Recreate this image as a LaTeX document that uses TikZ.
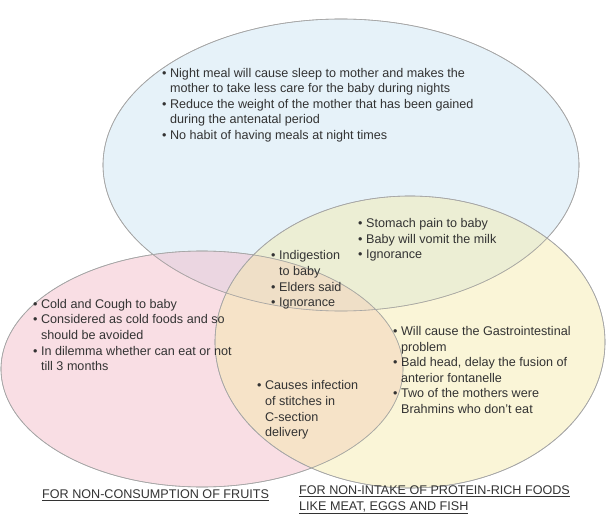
\documentclass[tikz,border=0pt]{standalone}
\usepackage{fontspec}
\setmainfont{Liberation Sans}
\begin{document}
\begin{tikzpicture}[x=1pt,y=-1pt,
  circ/.style={draw=gray!70,line width=0.6pt,fill opacity=0.45},
  txt/.style={align=left,anchor=west,inner sep=0pt,font=\fontsize{12.6}{15.6}\selectfont,text=black!80}]
\useasboundingbox (0,0) rectangle (606,514);
\fill[white] (0,0) rectangle (606,514);
\path[circ,fill={rgb,255:red,200;green,228;blue,242}] (341,165) ellipse [x radius=238,y radius=146];
\path[circ,fill={rgb,255:red,242;green,182;blue,196}] (202,369) ellipse [x radius=201,y radius=118];
\path[circ,fill={rgb,255:red,244;green,234;blue,168}] (410,342) ellipse [x radius=195,y radius=146];
\draw[gray!70,line width=0.6pt] (341,165) ellipse [x radius=238,y radius=146];
\draw[gray!70,line width=0.6pt] (202,369) ellipse [x radius=201,y radius=118];
\draw[gray!70,line width=0.6pt] (410,342) ellipse [x radius=195,y radius=146];
\node[txt] (t1) at (162,105) {• Night meal will cause sleep to mother and makes the\\\phantom{• }mother to take less care for the baby during nights\\• Reduce the weight of the mother that has been gained\\\phantom{• }during the antenatal period\\• No habit of having meals at night times};
\node[txt] (t2) at (358,240) {• Stomach pain to baby\\• Baby will vomit the milk\\• Ignorance};
\node[txt] (t3) at (271,280) {• Indigestion\\\phantom{• }to baby\\• Elders said\\• Ignorance};
\node[txt] (t4) at (33,335) {• Cold and Cough to baby\\• Considered as cold foods and so\\\phantom{• }should be avoided\\• In dilemma whether can eat or not\\\phantom{• }till 3 months};
\node[txt] (t5) at (393,370) {• Will cause the Gastrointestinal\\\phantom{• }problem\\• Bald head, delay the fusion of\\\phantom{• }anterior fontanelle\\• Two of the mothers were\\\phantom{• }Brahmins who don’t eat};
\node[txt] (t6) at (257,410) {• Causes infection\\\phantom{• }of stitches in\\\phantom{• }C-section\\\phantom{• }delivery};
\node[txt] (l1) at (42,495) {\underline{FOR NON-CONSUMPTION OF FRUITS}};
\node[txt] (l2) at (299,500) {\underline{FOR NON-INTAKE OF PROTEIN-RICH FOODS}\\\underline{LIKE MEAT, EGGS AND FISH}};
\end{tikzpicture}
\end{document}
